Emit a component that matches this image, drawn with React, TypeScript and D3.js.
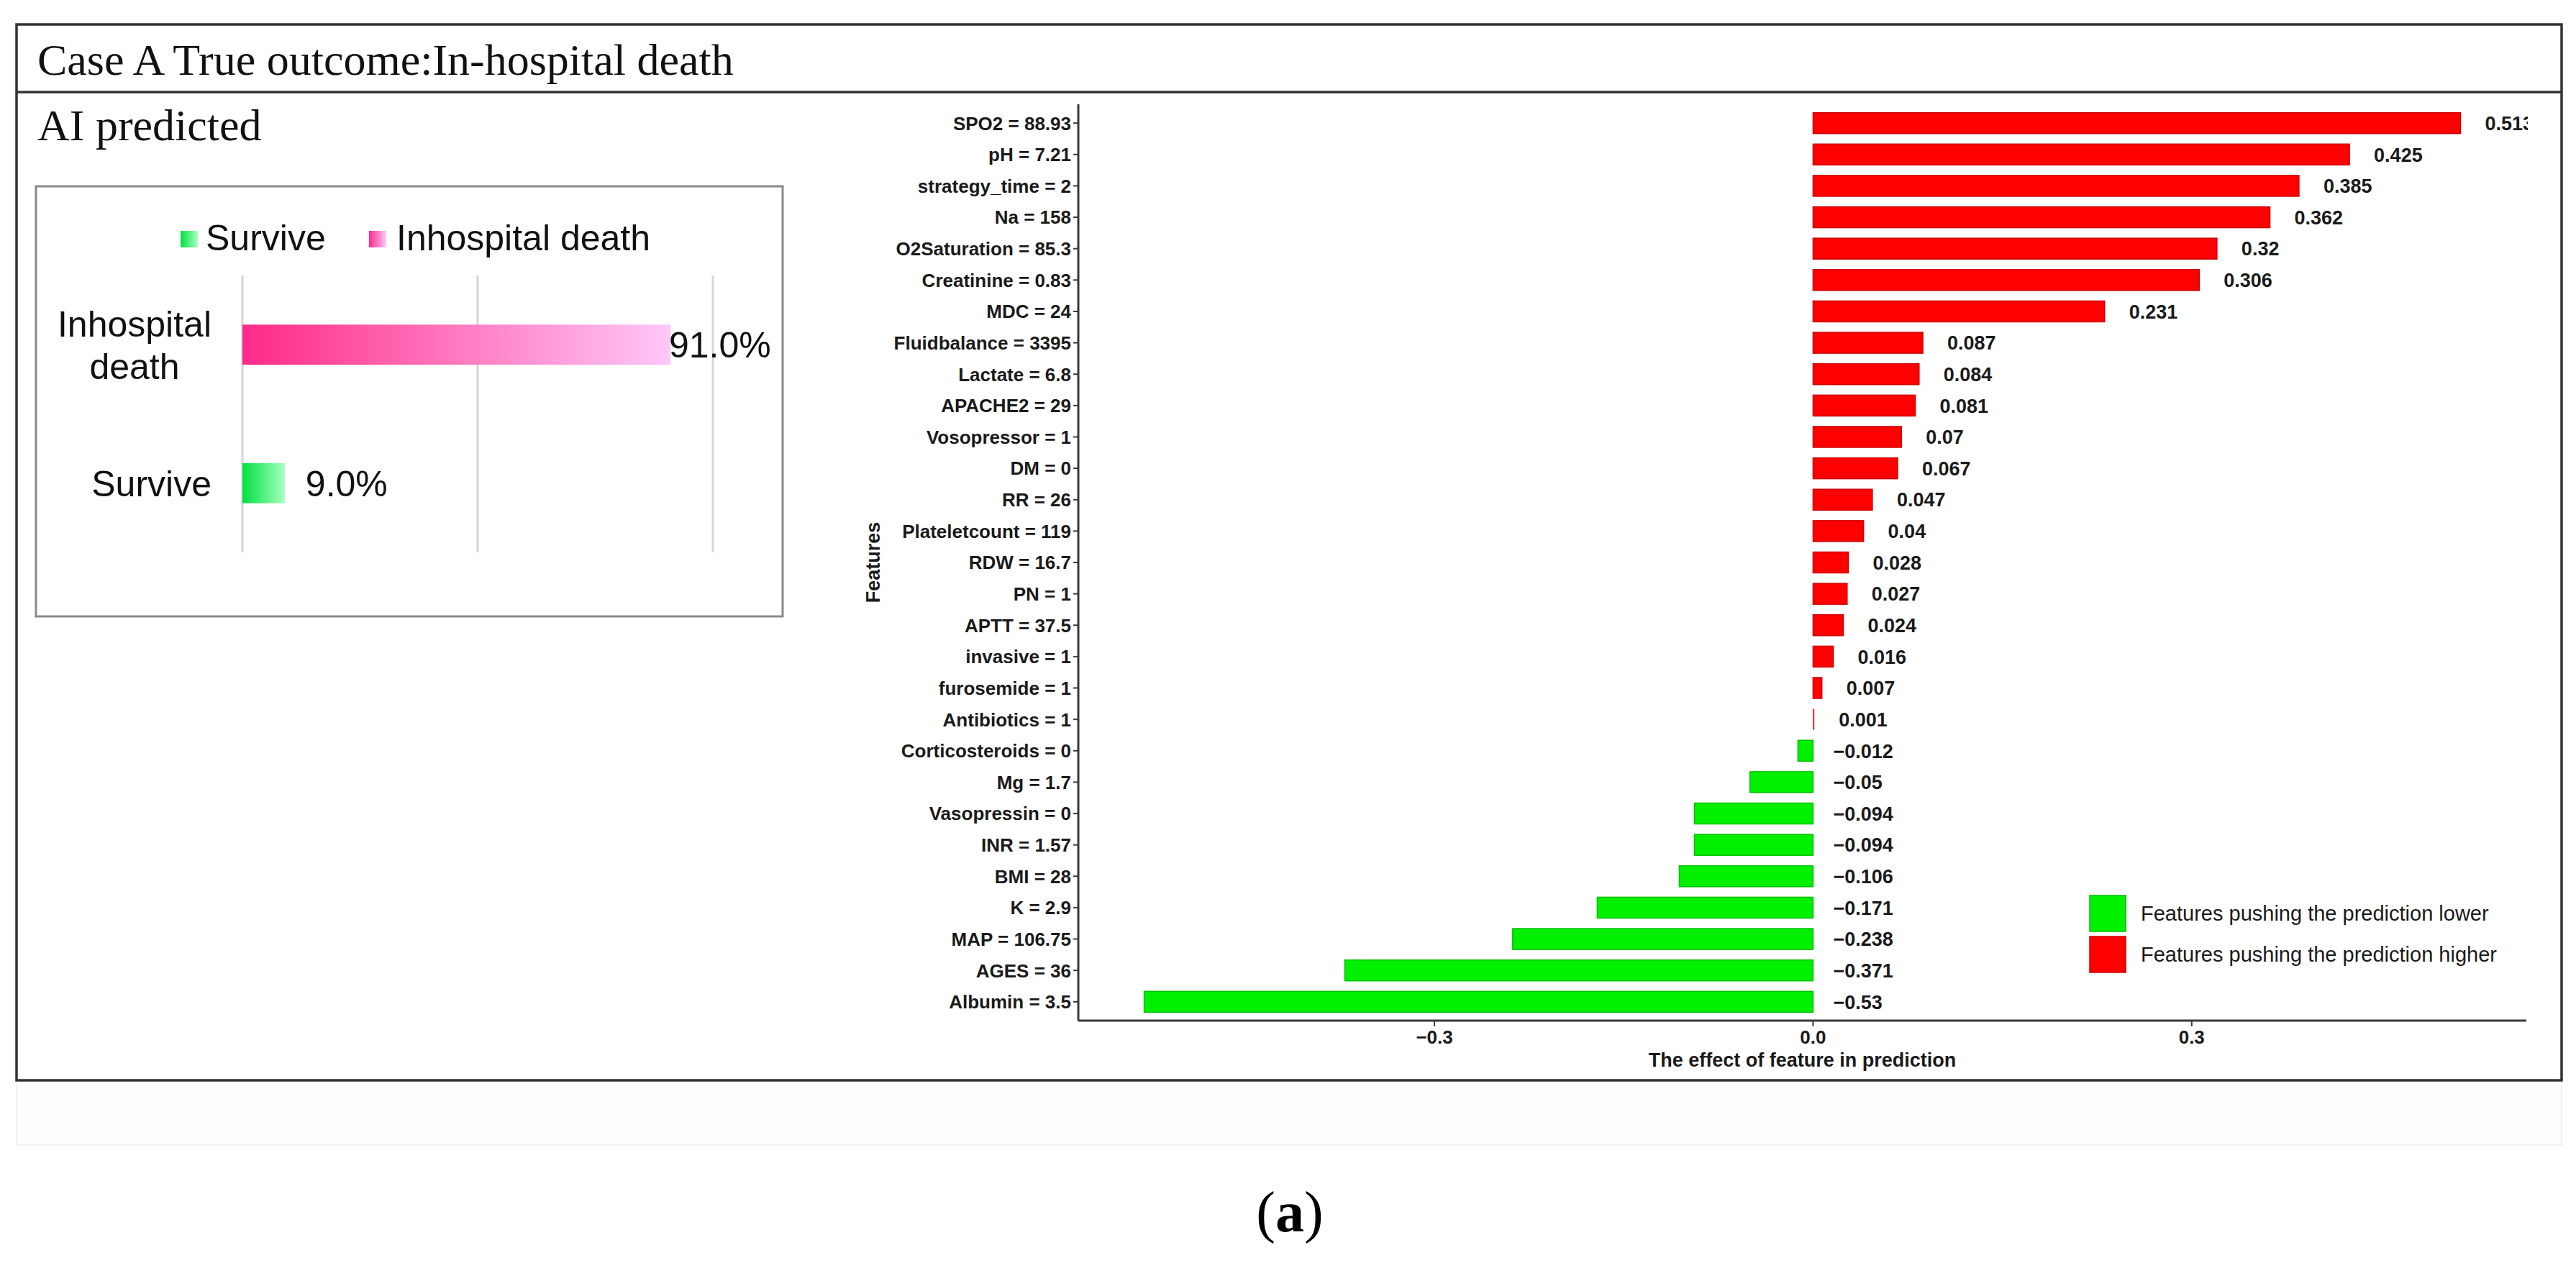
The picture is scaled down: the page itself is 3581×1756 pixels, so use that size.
import React from "react";
import * as d3 from "d3";

// ---------- data ----------
const features: string[] = [
  "SPO2 = 88.93", "pH = 7.21", "strategy_time = 2", "Na = 158", "O2Saturation = 85.3",
  "Creatinine = 0.83", "MDC = 24", "Fluidbalance = 3395", "Lactate = 6.8", "APACHE2 = 29",
  "Vosopressor = 1", "DM = 0", "RR = 26", "Plateletcount = 119", "RDW = 16.7", "PN = 1",
  "APTT = 37.5", "invasive = 1", "furosemide = 1", "Antibiotics = 1", "Corticosteroids = 0",
  "Mg = 1.7", "Vasopressin = 0", "INR = 1.57", "BMI = 28", "K = 2.9", "MAP = 106.75",
  "AGES = 36", "Albumin = 3.5",
];
const effects: number[] = [
  0.513, 0.425, 0.385, 0.362, 0.32, 0.306, 0.231, 0.087, 0.084, 0.081, 0.07, 0.067, 0.047,
  0.04, 0.028, 0.027, 0.024, 0.016, 0.007, 0.001, -0.012, -0.05, -0.094, -0.094, -0.106,
  -0.171, -0.238, -0.371, -0.53,
];
const xTicks: number[] = [-0.3, 0, 0.3];
const legendLabels: string[] = ["Features pushing the prediction lower", "Features pushing the prediction higher"];

const outcomeCategories: string[] = ["Inhospital death", "Survive"];
const outcomeProbs: number[] = [0.91, 0.09];
const outcomeGrid: number[] = [0, 0.5, 1];
const outcomeLegend: string[] = ["Survive", "Inhospital death"];

const titleText = "Case A True outcome:In-hospital death";
const subTitleText = "AI predicted";
const xTitle = "The effect of feature in prediction";
const yTitle = "Features";

// ---------- styles ----------
const SANS = "'Liberation Sans', Arial, sans-serif";
const SERIF = "'Liberation Serif', 'Times New Roman', serif";
const RED = "#ff0000";
const GREEN = "#00f000";

const fmtVal = (v: number) => (v < 0 ? "\u2212" + String(+(-v).toFixed(3)) : String(+v.toFixed(3)));
const fmtTick = d3.format(".1f");

export default function App() {
  // main chart scales
  const [mn, mx] = d3.extent(effects) as [number, number];
  const pad = (mx - mn) * 0.05;
  const x = d3.scaleLinear().domain([mn - pad, mx + pad]).range([1499, 3512]);
  const y = d3.scalePoint<string>().domain(features).range([145, 1419]).padding(0.6);
  const step = y.step();
  const barH = step * 0.665;
  const x0 = x(0);

  // left inset scales
  const xl = d3.scaleLinear().domain([0, 1]).range([337, 991]);
  const yl = d3.scaleBand<string>().domain(outcomeCategories).range([383, 768]).paddingInner(0.71).paddingOuter(0.355);

  return (
    <svg width={3581} height={1756} style={{ position: "absolute", left: 0, top: 0, background: "#fff" }}>
      <defs>
        <linearGradient id="gPink" x1="0" x2="1" y1="0" y2="0">
          <stop offset="0%" stopColor="#ff2a88" />
          <stop offset="100%" stopColor="#ffc8f8" />
        </linearGradient>
        <linearGradient id="gGreen" x1="0" x2="1" y1="0" y2="0">
          <stop offset="0%" stopColor="#00e040" />
          <stop offset="100%" stopColor="#a8ffc0" />
        </linearGradient>
        <clipPath id="panelClip">
          <rect x={1499} y={100} width={3514 - 1499} height={1400} />
        </clipPath>
      </defs>
      <rect x={0} y={0} width={3581} height={1756} fill="#fff" />

      {/* faint box below frame */}
      <rect x={23} y={1502} width={3538} height={90} fill="#fdfdfd" stroke="#f1f1f1" strokeWidth={2} />

      {/* outer frame */}
      <rect x={23} y={34} width={3538} height={1468} fill="none" stroke="#333" strokeWidth={3.5} />
      <line x1={23} x2={3561} y1={128} y2={128} stroke="#333" strokeWidth={3.5} />
      <text x={52} y={104} fontFamily={SERIF} fontSize={62} fill="#111">{titleText}</text>
      <text x={52} y={195} fontFamily={SERIF} fontSize={62} fill="#111">{subTitleText}</text>

      {/* left inset */}
      <rect x={50} y={259} width={1038} height={598} fill="#fff" stroke="#8a8a8a" strokeWidth={3} />
      {outcomeGrid.map((g) => (
        <line key={g} x1={xl(g)} x2={xl(g)} y1={383} y2={768} stroke="#d6d6d6" strokeWidth={3} />
      ))}
      {/* inset legend */}
      <g fontFamily={SANS} fontSize={50} fill="#111">
        <rect x={251} y={321} width={24} height={23} fill="url(#gGreen)" />
        <text x={286} y={348}>{outcomeLegend[0]}</text>
        <rect x={513} y={321} width={24} height={23} fill="url(#gPink)" />
        <text x={551} y={348}>{outcomeLegend[1]}</text>
      </g>
      {outcomeCategories.map((c, i) => {
        const by = yl(c) as number;
        const bh = yl.bandwidth();
        const cy = by + bh / 2;
        const v = outcomeProbs[i];
        const ex = xl(v);
        const lbl = (v * 100).toFixed(1) + "%";
        const words = c.split(" ");
        const labelX = Math.min(ex + 29, 930);
        return (
          <g key={c} fontFamily={SANS} fontSize={50} fill="#111">
            <rect x={xl(0)} y={by} width={ex - xl(0)} height={bh} fill={i === 0 ? "url(#gPink)" : "url(#gGreen)"} />
            <text x={labelX} y={cy + 18}>{lbl}</text>
            {words.length > 1 ? (
              words.map((w, k) => (
                <text key={w} x={187} y={cy + 18 - 29.5 + k * 59} textAnchor="middle">{w}</text>
              ))
            ) : (
              <text x={294} y={cy + 18} textAnchor="end">{c}</text>
            )}
          </g>
        );
      })}

      {/* main chart bars */}
      {features.map((f, i) => {
        const v = effects[i];
        const cy = y(f) as number;
        const xa = Math.min(x(v), x0);
        const w = Math.abs(x(v) - x0);
        return (
          <rect key={f} x={xa} y={cy - barH / 2} width={w} height={barH}
            fill={v >= 0 ? RED : GREEN} stroke={v >= 0 ? "#cf0000" : "#00c000"} strokeWidth={w > 2 ? 1.5 : 0} />
        );
      })}

      {/* value labels */}
      <g clipPath="url(#panelClip)" fontFamily={SANS} fontSize={27} fontWeight="bold" fill="#1a1a1a">
        {features.map((f, i) => {
          const v = effects[i];
          const cy = y(f) as number;
          return (
            <text key={f} x={x(Math.max(v, 0)) + (v >= 0 ? 34 : 28)} y={cy} dy="0.36em">{fmtVal(v)}</text>
          );
        })}
      </g>

      {/* axes */}
      <line x1={1499} x2={1499} y1={145} y2={1419} stroke="#3a3a3a" strokeWidth={3} />
      <line x1={1499} x2={3512} y1={1419} y2={1419} stroke="#3a3a3a" strokeWidth={3} />
      <g fontFamily={SANS} fontSize={26} fontWeight="bold" fill="#1a1a1a">
        {features.map((f) => {
          const cy = y(f) as number;
          return (
            <g key={f}>
              <line x1={1492} x2={1499} y1={cy} y2={cy} stroke="#3a3a3a" strokeWidth={2} />
              <text x={1489} y={cy} dy="0.36em" textAnchor="end">{f}</text>
            </g>
          );
        })}
        {xTicks.map((t) => (
          <g key={t}>
            <line x1={x(t)} x2={x(t)} y1={1419} y2={1427} stroke="#3a3a3a" strokeWidth={2} />
            <text x={x(t)} y={1451} textAnchor="middle">{fmtTick(t)}</text>
          </g>
        ))}
        <text x={(1499 + 3512) / 2} y={1483} textAnchor="middle" fontSize={27}>{xTitle}</text>
        <text transform={`translate(1223, ${(145 + 1419) / 2}) rotate(-90)`} textAnchor="middle" fontSize={27}>{yTitle}</text>
      </g>

      {/* main legend */}
      <g fontFamily={SANS} fontSize={29} fill="#1a1a1a">
        {legendLabels.map((l, i) => (
          <g key={l}>
            <rect x={2905} y={1245 + i * 57} width={50} height={50} fill={i === 0 ? GREEN : RED}
              stroke={i === 0 ? "#00c000" : "#cf0000"} strokeWidth={1.5} />
            <text x={2976} y={1270 + i * 57} dy="0.36em">{l}</text>
          </g>
        ))}
      </g>

      {/* panel label */}
      <text x={1793} y={1712} textAnchor="middle" fontFamily={SERIF} fontSize={80} fill="#000">
        (<tspan fontWeight="bold">a</tspan>)
      </text>
    </svg>
  );
}
